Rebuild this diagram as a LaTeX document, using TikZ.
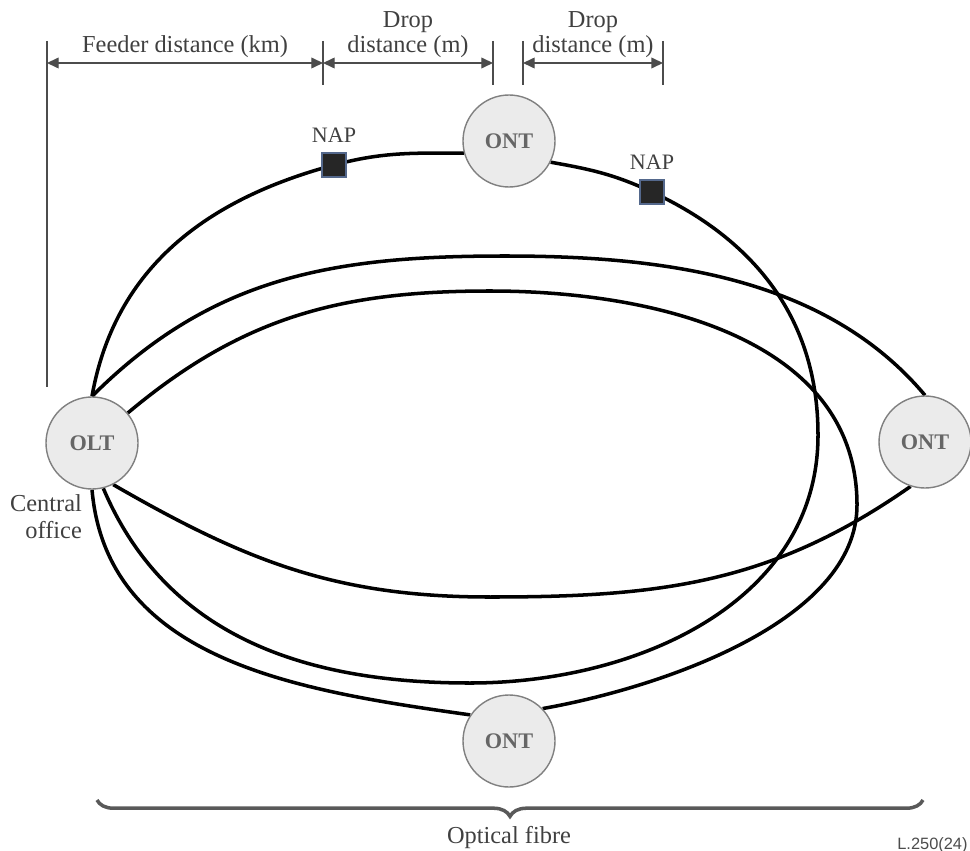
\documentclass[tikz,border=0pt]{standalone}
\usepackage{fontspec}
\setmainfont{Liberation Serif}
\setsansfont{Liberation Sans}
\usetikzlibrary{positioning,arrows.meta,calc,backgrounds,decorations.pathreplacing}
\definecolor{napedge}{RGB}{84,104,140}

\begin{document}
\begin{tikzpicture}[
  x=0.015cm, y=-0.015cm,
  font=\rmfamily\fontsize{10.4}{10.8}\selectfont,
  term/.style={circle, draw=black!50, line width=0.6pt, fill=black!8,
    minimum size=1.38cm, inner sep=0pt, text=black!60,
    font=\rmfamily\bfseries\fontsize{9.5}{10}\selectfont},
  nap/.style={rectangle, draw=napedge, line width=0.8pt, fill=black!85,
    minimum size=0.36cm, inner sep=0pt},
  naplabel/.style={font=\rmfamily\fontsize{9.4}{10}\selectfont, text=black!75, inner sep=4pt},
  fibre/.style={draw=black, line width=1.5pt},
  dimline/.style={draw=black!70, line width=0.6pt},
  dimarrow/.style={dimline, {Triangle[length=5pt,width=4.6pt]}-{Triangle[length=5pt,width=4.6pt]}},
  lbl/.style={text=black!75, inner sep=2pt},
  fibrebrace/.style={draw=black!65, line width=1.5pt, decorate,
    decoration={brace, mirror, amplitude=7pt}},
]
\useasboundingbox (0,0) rectangle (970,850);

% ---- nodes ----
\node[term] (olt) at (92,443) {OLT};
\node[term] (ontT) at (509,141) {ONT};
\node[term] (ontR) at (925,442) {ONT};
\node[term] (ontB) at (509,741) {ONT};

\node[nap, label={[naplabel]above:NAP}] (napL) at (334,165) {};
\node[nap, label={[naplabel]above:NAP}] (napR) at (652,192) {};

\node[lbl, align=right, anchor=north east, font=\rmfamily\fontsize{10.4}{11.5}\selectfont]
  (office) at ($(olt.south)+(-5,0)$) {Central\\office};

% turning points of the loops
\coordinate (aE) at (818,435);
\coordinate (aS) at (470,683);
\coordinate (bN) at (505,256);
\coordinate (bS) at (490,597);
\coordinate (cN) at (490,291);
\coordinate (cE) at (857,505);

% ---- fibre loops (behind the nodes) ----
\begin{scope}[on background layer]
  % loop through the top ONT and both NAPs
  \draw[fibre] (olt.north) to[out=80,in=195] (napL.center) to[out=15,in=180] (ontT.195);
  \draw[fibre] (ontT.-27) to[out=-10,in=155] (napR.center) to[out=-25,in=90] (aE)
    to[out=-90,in=0] (aS) to[out=180,in=-67] (olt.-76);
  % loop through the right ONT
  \draw[fibre] (olt.north) to[out=45,in=180] (bN) to[out=0,in=130,looseness=0.9] (ontR.north);
  \draw[fibre] (ontR.-108) to[out=215,in=0] (bS) to[out=180,in=-30] (olt.-63);
  % loop through the bottom ONT
  \draw[fibre] (olt.40) to[out=40,in=180] (cN) to[out=0,in=90] (cE)
    to[out=-90,in=10,looseness=0.8] (ontB.44);
  \draw[fibre] (ontB.146) to[out=172,in=-85] (olt.south);
\end{scope}

% ---- distances ----
\coordinate (d0) at (47,63);
\coordinate (d1) at (323,63);
\coordinate (d2) at (493,63);
\coordinate (d3) at (523,63);
\coordinate (d4) at (663,63);

\draw[dimline] ($(d0)+(0,-22)$) -- ($(d0)+(0,324)$);
\foreach \t in {d1,d2,d3,d4}
  \draw[dimline] ($(\t)+(0,-22)$) -- ($(\t)+(0,22)$);

\draw[dimarrow] (d0) -- (d1) node[lbl, midway, above] {Feeder distance (km)};
\draw[dimarrow] (d1) -- (d2) node[lbl, midway, above, align=center] {Drop\\distance (m)};
\draw[dimarrow] (d3) -- (d4) node[lbl, midway, above, align=center] {Drop\\distance (m)};

% ---- optical fibre brace ----
\coordinate (fl) at (97,800);
\coordinate (fr) at (923,800);
\draw[fibrebrace] (fl) -- (fr);
\node[lbl, anchor=base] (fibrelbl) at (509,843) {Optical fibre};

\node[anchor=north east, inner sep=0pt, text=black!70,
  font=\sffamily\fontsize{7}{8}\selectfont] (ref) at (968,837) {L.250(24)};

\end{tikzpicture}
\end{document}
